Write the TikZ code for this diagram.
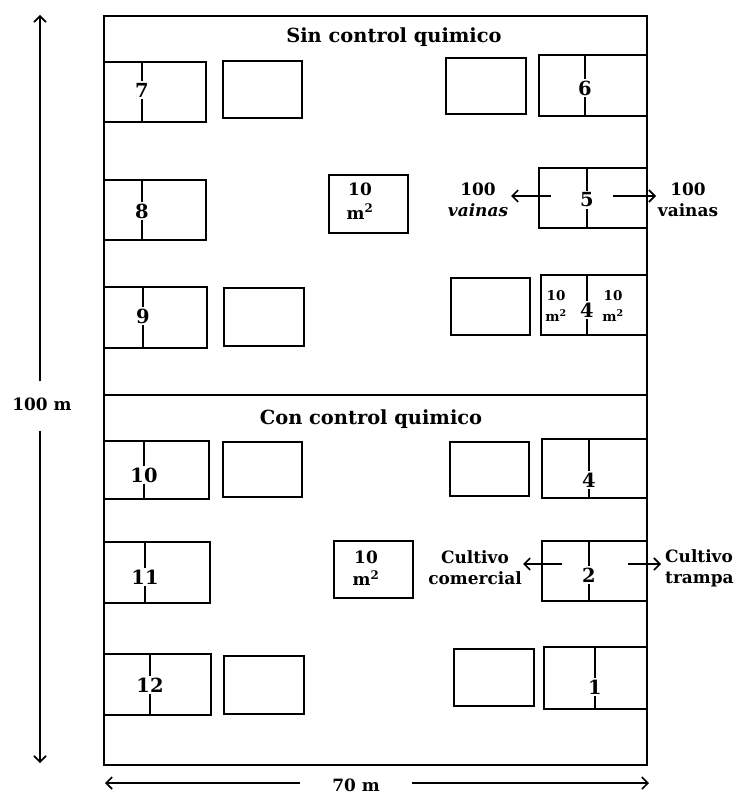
\documentclass[tikz,border=0pt]{standalone}
\usepackage{fontspec}
\setmainfont{DejaVu Serif}
\usetikzlibrary{arrows.meta}
\tikzset{
  plotbox/.style={draw, line width=2.2bp, inner sep=0pt, anchor=north west},
  divline/.style={line width=2bp},
  numlbl/.style={fill=white, inner sep=1.5bp, font=\fontsize{19.5}{22}\selectfont\bfseries},
  lbl/.style={font=\fontsize{17}{21}\selectfont\bfseries, align=center, inner sep=0pt},
  smalllbl/.style={font=\fontsize{13.5}{22}\selectfont\bfseries, align=center, inner sep=0pt},
  hdr/.style={font=\fontsize{19.5}{22}\selectfont\bfseries, inner sep=0pt},
  arr/.style={-{Straight Barb[length=6bp,width=12bp]}, line width=1.6bp},
}
\newcommand\plotnode[5]{\node[plotbox, minimum width={(#4-#2)*1bp}, minimum height={(#5-#3)*1bp}] (#1) at (#2,#3) {};}
\newcommand\plotdiv[2]{\draw[divline] ([xshift=#2bp]#1.north west) -- ([xshift=#2bp]#1.south west);}
\begin{document}
\begin{tikzpicture}[x=1bp,y=-1bp]
\useasboundingbox[fill=white] (0,0) rectangle (742,795);
% field
\node[plotbox, line width=2.4bp, minimum width=543bp, minimum height=749bp] (field) at (103,15) {};
\draw[line width=2.2bp] ([yshift=-380bp]field.north west) -- ([yshift=-380bp]field.north east);
% headers
\node[hdr] (h1) at (394,37) {Sin control quimico};
\node[hdr] (h2) at (371,419) {Con control quimico};
% top section plots
\plotnode{p7}{103}{61}{205}{121}   \plotdiv{p7}{39}
\plotnode{e1}{222}{60}{301}{117}
\plotnode{e2}{445}{57}{525}{113}
\plotnode{p6}{538}{54}{646}{115}   \plotdiv{p6}{47}
\plotnode{p8}{103}{179}{205}{239}  \plotdiv{p8}{39}
\plotnode{m1}{328}{174}{407}{232}
\plotnode{p5}{538}{167}{646}{227}  \plotdiv{p5}{49}
\plotnode{p9}{103}{286}{206}{347}  \plotdiv{p9}{40}
\plotnode{e3}{223}{287}{303}{345}
\plotnode{e4}{450}{277}{529}{334}
\plotnode{p4a}{540}{274}{646}{334} \plotdiv{p4a}{47}
% bottom section plots
\plotnode{p10}{103}{440}{208}{498} \plotdiv{p10}{41}
\plotnode{e5}{222}{441}{301}{496}
\plotnode{e6}{449}{441}{528}{495}
\plotnode{p4b}{541}{438}{646}{497} \plotdiv{p4b}{48}
\plotnode{p11}{103}{541}{209}{602} \plotdiv{p11}{42}
\plotnode{m2}{333}{540}{412}{597}
\plotnode{p2}{541}{540}{646}{600}  \plotdiv{p2}{48}
\plotnode{p12}{103}{653}{210}{714} \plotdiv{p12}{47}
\plotnode{e7}{223}{655}{303}{713}
\plotnode{e8}{453}{648}{533}{705}
\plotnode{p1}{543}{646}{646}{708}  \plotdiv{p1}{52}
% plot numbers
\node[numlbl] (n7) at (142,90) {7};
\node[numlbl] (n6) at (585,88) {6};
\node[numlbl] (n8) at (142,211) {8};
\node[numlbl] (n5) at (587,200) {5};
\node[numlbl] (n9) at (143,316) {9};
\node[numlbl] (n4a) at (587,310) {4};
\node[numlbl] (n10) at (144,475) {10};
\node[numlbl] (n4b) at (589,480) {4};
\node[numlbl] (n11) at (145,577) {11};
\node[numlbl] (n2) at (589,575) {2};
\node[numlbl] (n12) at (150,685) {12};
\node[numlbl] (n1) at (595,687) {1};
% area labels
\node[lbl, font=\fontsize{17}{24}\selectfont\bfseries] (a1) at (360,201) {10\\m\textsuperscript{2}};
\node[lbl, font=\fontsize{17}{22}\selectfont\bfseries] (a2) at (366,568) {10\\m\textsuperscript{2}};
\node[smalllbl] (a3) at (556,306) {10\\m\textsuperscript{2}};
\node[smalllbl] (a4) at (613,306) {10\\m\textsuperscript{2}};
% arrows plot 5
\coordinate (a5ls) at (551,196);
\coordinate (a5le) at (511,196);
\coordinate (a5rs) at (613,196);
\coordinate (a5re) at (656,196);
\draw[arr] (a5ls) -- (a5le);
\draw[arr] (a5rs) -- (a5re);
\node[lbl] (t5l) at (478,200) {100\\\textit{vainas}};
\node[lbl] (t5r) at (688,200) {100\\vainas};
% arrows plot 2
\coordinate (a2ls) at (562,564);
\coordinate (a2le) at (523,564);
\coordinate (a2rs) at (628,564);
\coordinate (a2re) at (661,564);
\draw[arr] (a2ls) -- (a2le);
\draw[arr] (a2rs) -- (a2re);
\node[lbl] (t2l) at (475,568) {Cultivo\\comercial};
\node[lbl, align=left, anchor=west] (t2r) at (665,568) {Cultivo\\trampa};
% dimensions
\node[lbl] (d100) at (42,404) {100 m};
\coordinate (vtop) at (40,15);
\coordinate (vbot) at (40,763);
\draw[arr] (d100.north -| vtop) ++(0,-16) -- (vtop);
\draw[arr] (d100.south -| vbot) ++(0,20) -- (vbot);
\node[lbl] (d70) at (356,785) {70 m};
\coordinate (hl) at (105,783);
\coordinate (hr) at (649,783);
\draw[arr] (d70.west |- hl) ++(-32,0) -- (hl);
\draw[arr] (d70.east |- hr) ++(32,0) -- (hr);
\end{tikzpicture}
\end{document}
